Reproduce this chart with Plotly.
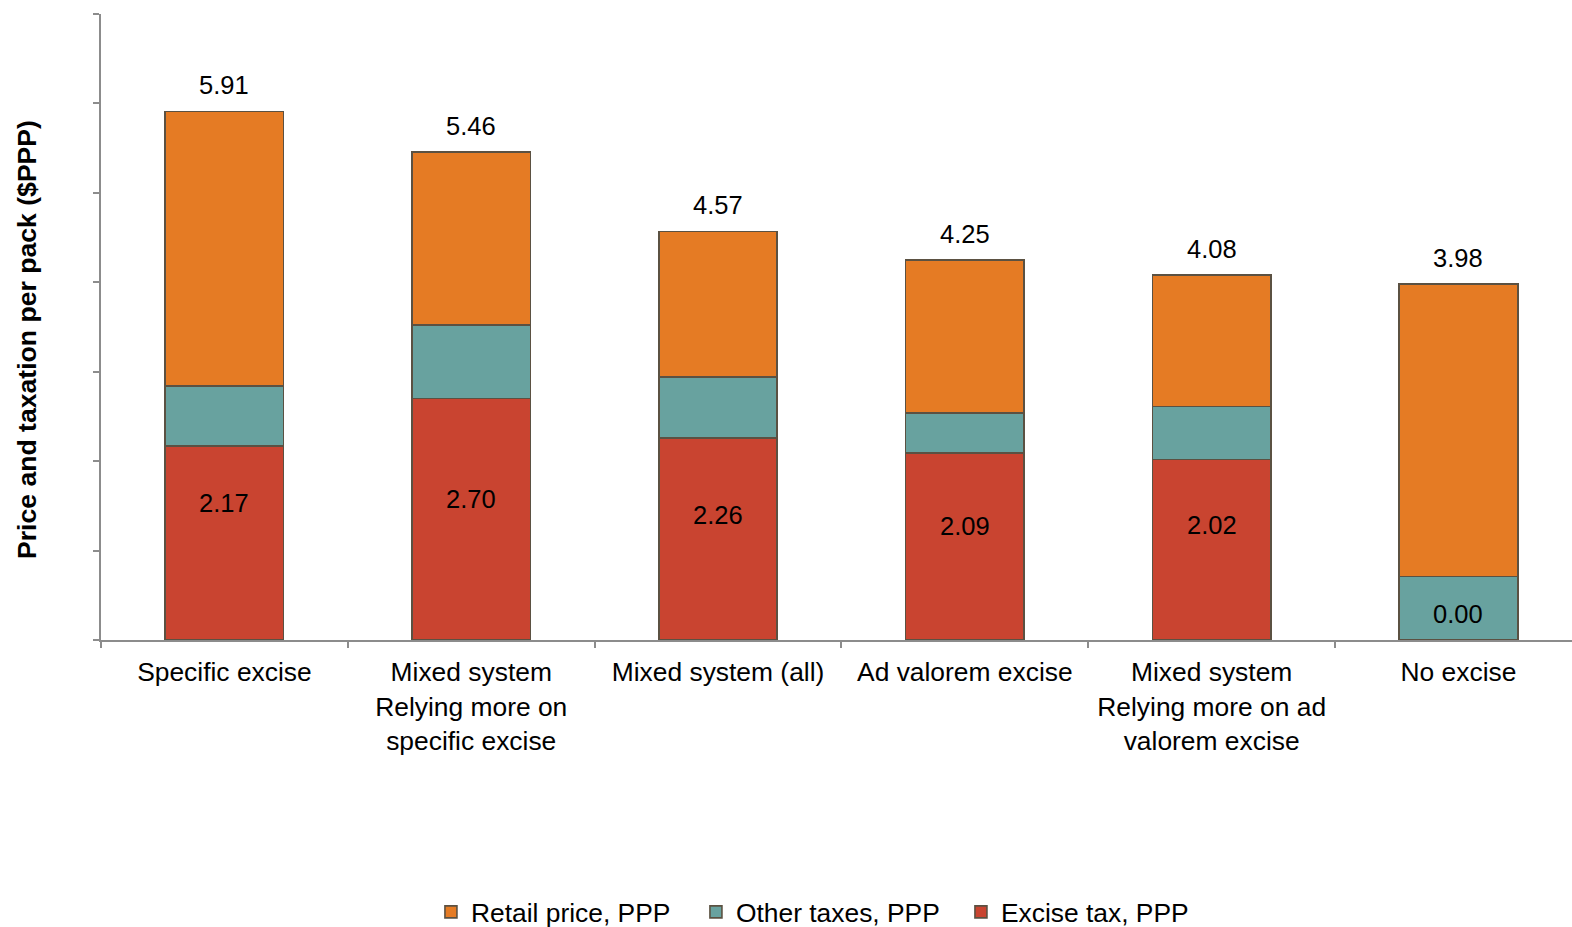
import plotly.graph_objects as go

# Excise regimes and per-pack price components ($PPP)
categories = [
    "Specific excise",
    "Mixed system<br>Relying more on<br>specific excise",
    "Mixed system (all)",
    "Ad valorem excise",
    "Mixed system<br>Relying more on ad<br>valorem excise",
    "No excise",
]
excise_tax = [2.17, 2.70, 2.26, 2.09, 2.02, 0.00]
other_taxes = [0.67, 0.82, 0.68, 0.45, 0.59, 0.71]
totals = [5.91, 5.46, 4.57, 4.25, 4.08, 3.98]
retail_price = [round(t - e - o, 2) for t, e, o in zip(totals, excise_tax, other_taxes)]

# heights at which the excise values are printed
excise_label_at = [1.53, 1.58, 1.40, 1.28, 1.29, 0.29]

FONT = "Liberation Sans, Arial, sans-serif"
OUTLINE = dict(color="#5b5142", width=1.6)

fig = go.Figure()
fig.add_trace(go.Bar(x=categories, y=excise_tax, name="Excise tax, PPP",
                     marker=dict(color="#c94430", line=OUTLINE)))
fig.add_trace(go.Bar(x=categories, y=other_taxes, name="Other taxes, PPP",
                     marker=dict(color="#68a29f", line=OUTLINE)))
fig.add_trace(go.Bar(x=categories, y=retail_price, name="Retail price, PPP",
                     marker=dict(color="#e57b24", line=OUTLINE)))

for cat, tot in zip(categories, totals):
    fig.add_annotation(x=cat, y=tot, text=f"{tot:.2f}", showarrow=False,
                       yanchor="middle", yshift=26,
                       font=dict(size=25.5, color="black", family=FONT))

for cat, val, at in zip(categories, excise_tax, excise_label_at):
    fig.add_annotation(x=cat, y=at, text=f"{val:.2f}", showarrow=False,
                       yanchor="middle",
                       font=dict(size=25.5, color="black", family=FONT))

fig.add_annotation(xref="paper", yref="paper", x=0, y=0.5, xshift=-74, yshift=-13,
                   text="<b>Price and taxation per pack ($PPP)</b>", textangle=-90,
                   showarrow=False, xanchor="center", yanchor="middle",
                   font=dict(size=26.6, color="black", family=FONT))

fig.update_layout(
    barmode="stack",
    bargap=0.52,
    width=1572,
    height=927,
    margin=dict(l=101, r=0, t=14, b=287),
    plot_bgcolor="white",
    paper_bgcolor="white",
    font=dict(family=FONT, size=26.4, color="black"),
    legend=dict(orientation="h", traceorder="reversed",
                xref="container", yref="container",
                x=0.527, y=0.016, xanchor="center", yanchor="middle",
                font=dict(size=26.4, family=FONT),
                entrywidth=220, entrywidthmode="pixels"),
    showlegend=True,
)
fig.update_xaxes(range=[-0.5, 5.46], showline=True, linecolor="#8c8c8c", linewidth=1.5,
                 ticks="outside", tickson="boundaries", ticklen=6,
                 tickcolor="#8c8c8c", tickwidth=1.5, ticklabelstandoff=8,
                 tickfont=dict(size=26.4, family=FONT, color="black"))
fig.update_yaxes(range=[0, 7], dtick=1, showticklabels=False, showgrid=False,
                 zeroline=False, showline=True, linecolor="#8c8c8c", linewidth=1.5,
                 ticks="outside", ticklen=6, tickcolor="#8c8c8c", tickwidth=1.5)

fig.write_html("out.html")
